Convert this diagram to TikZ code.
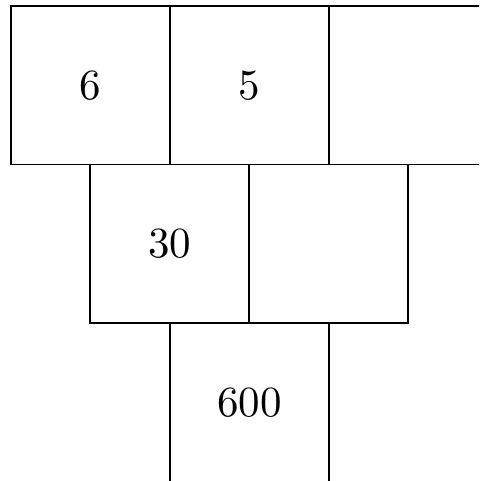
\documentclass[tikz,border=0pt]{standalone}
\newcommand{\bignum}[1]{\scalebox{4.3}{#1}}
\begin{document}
\begin{tikzpicture}[x=1pt,y=-1pt,
  cell/.style={draw=black,line width=1.6pt,minimum width=159pt,minimum height=158.5pt,inner sep=0pt,outer sep=0pt,anchor=north west,font=\fontsize{10}{12}\selectfont}]
\useasboundingbox (0,0) rectangle (479,481);
\clip (0,0) rectangle (479,481);
\node[cell] (a) at (11,6) {\bignum{6}};
\node[cell] (b) at (170,6) {\bignum{5}};
\node[cell] (c) at (329,6) {};
\node[cell] (d) at (90,164.5) {\bignum{30}};
\node[cell] (e) at (249,164.5) {};
\node[cell] (f) at (170,323) {\bignum{600}};
\end{tikzpicture}
\end{document}
